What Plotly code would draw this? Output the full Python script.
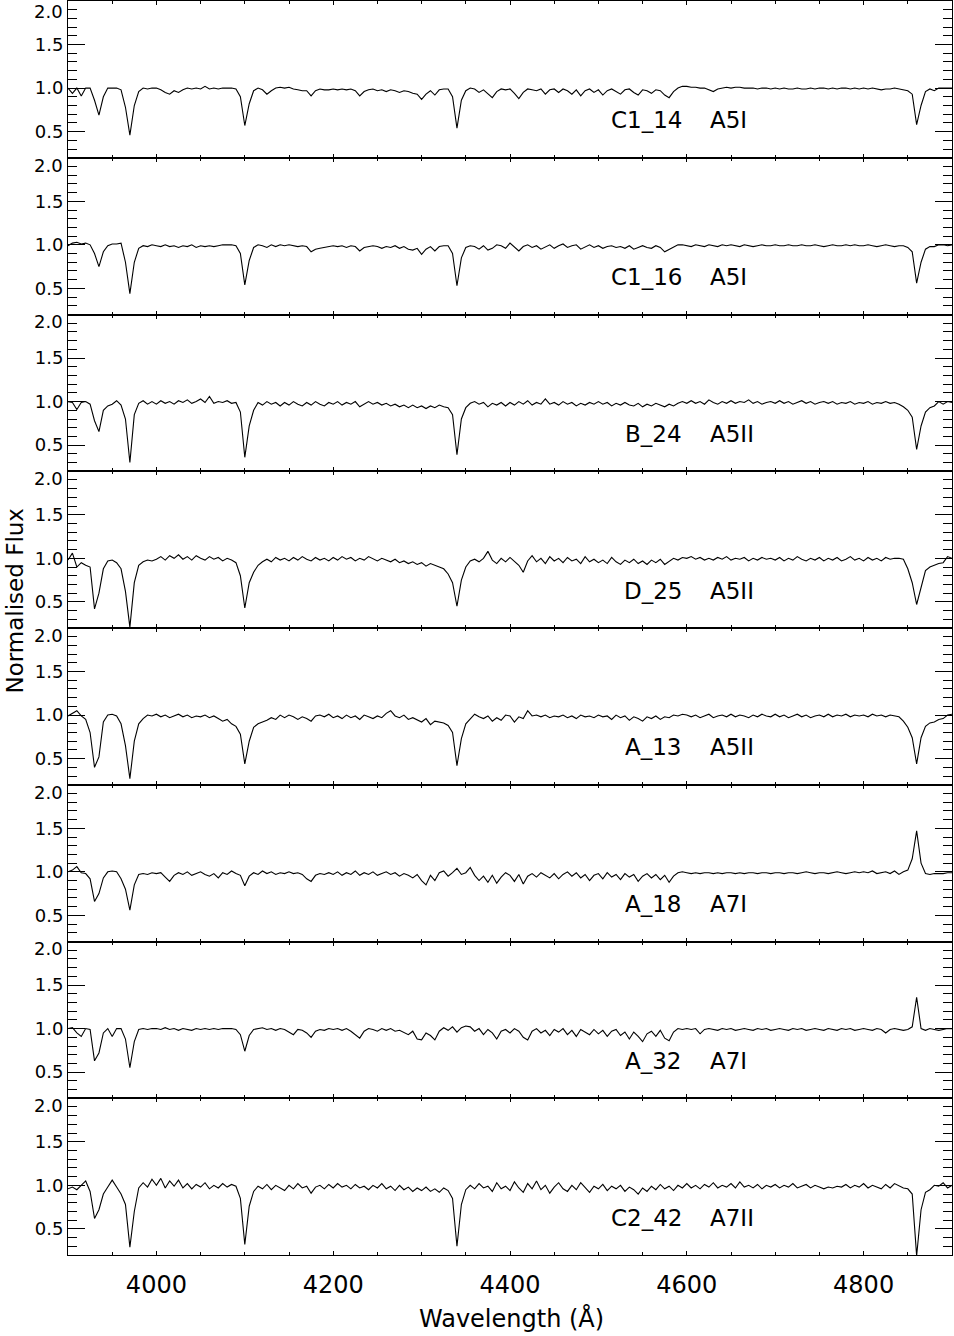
import plotly.graph_objects as go
from plotly.subplots import make_subplots

# ---------------- data ----------------
WAVELENGTH = list(range(3900, 4901, 5))  # sampling grid in Angstrom

STAR_IDS = ["C1_14", "C1_16", "B_24", "D_25", "A_13", "A_18", "A_32", "C2_42"]
SPECTRAL_TYPES = ["A5I", "A5I", "A5II", "A5II", "A5II", "A7I", "A7I", "A7II"]

FLUX_C1_14 = [
    1.00, 0.94, 1.00, 0.91, 1.00, 1.00, 0.86, 0.69, 0.90, 1.00, 1.00, 1.00, 0.98, 0.78, 0.46, 0.80, 0.96, 1.00, 0.99, 1.00,
    1.00, 0.98, 0.95, 0.93, 0.97, 0.95, 0.98, 1.00, 0.99, 1.00, 0.99, 1.02, 0.99, 1.00, 0.99, 1.00, 1.00, 1.00, 0.99, 0.90,
    0.57, 0.82, 0.97, 1.00, 0.98, 0.93, 0.97, 1.00, 1.01, 1.00, 1.01, 0.99, 0.98, 0.97, 0.97, 0.91, 0.97, 0.99, 0.98, 0.98,
    0.99, 0.98, 0.99, 0.98, 0.99, 0.97, 0.91, 0.96, 0.98, 0.99, 0.97, 0.98, 0.96, 0.98, 0.97, 0.95, 0.97, 0.96, 0.94, 0.93,
    0.87, 0.93, 0.97, 0.92, 0.98, 0.99, 0.99, 0.90, 0.54, 0.86, 0.97, 1.00, 0.99, 0.95, 0.98, 0.93, 0.89, 0.96, 0.99, 0.98,
    0.99, 0.94, 0.88, 0.95, 0.99, 0.98, 0.97, 0.99, 0.93, 0.98, 0.99, 0.95, 0.99, 0.97, 0.93, 0.98, 0.91, 0.97, 0.99, 0.95,
    0.98, 0.92, 0.97, 0.99, 0.96, 0.93, 0.98, 0.99, 0.95, 0.92, 0.98, 0.97, 0.94, 0.98, 0.97, 0.92, 0.89, 0.96, 1.00, 1.02,
    1.02, 1.01, 1.01, 1.00, 1.00, 0.98, 0.96, 0.99, 1.00, 1.01, 1.00, 1.01, 1.01, 1.00, 1.00, 1.00, 0.99, 1.00, 1.00, 0.99,
    1.00, 0.99, 1.00, 0.99, 0.99, 1.00, 0.99, 0.99, 1.00, 0.99, 1.00, 1.00, 0.99, 1.00, 0.99, 1.00, 1.00, 0.99, 1.00, 0.99,
    1.00, 0.99, 1.00, 0.99, 0.98, 0.99, 0.99, 1.00, 0.99, 0.98, 0.97, 0.93, 0.58, 0.80, 0.96, 0.99, 0.97, 1.00, 1.00, 1.00,
    1.00,
]

FLUX_C1_16 = [
    0.99, 1.02, 1.03, 1.01, 1.02, 1.00, 0.90, 0.75, 0.92, 0.99, 1.01, 1.01, 1.02, 0.80, 0.44, 0.80, 0.96, 0.99, 0.98, 1.00,
    0.99, 0.98, 1.00, 0.98, 0.99, 0.97, 0.99, 0.98, 1.00, 0.97, 0.99, 0.98, 0.99, 0.98, 0.99, 1.00, 1.00, 1.00, 0.99, 0.90,
    0.54, 0.82, 0.97, 1.00, 0.99, 0.97, 1.00, 0.98, 1.00, 0.99, 1.00, 0.99, 0.98, 0.99, 0.98, 0.92, 0.95, 0.96, 0.97, 0.98,
    0.99, 0.98, 0.99, 0.97, 0.99, 0.98, 0.93, 0.97, 0.98, 0.99, 0.98, 0.96, 0.98, 0.97, 0.99, 0.96, 0.98, 0.95, 0.94, 0.96,
    0.89, 0.95, 0.98, 0.93, 0.98, 0.99, 0.99, 0.90, 0.53, 0.85, 0.97, 0.99, 0.98, 0.95, 0.99, 0.94, 0.96, 1.00, 0.99, 0.96,
    1.02, 0.97, 0.93, 0.98, 1.00, 0.97, 0.99, 0.95, 0.98, 1.00, 0.96, 0.99, 1.01, 0.97, 0.99, 1.00, 0.95, 0.98, 1.00, 0.97,
    0.99, 0.96, 0.98, 0.99, 0.97, 0.98, 0.96, 0.99, 0.95, 0.97, 0.99, 0.97, 0.96, 0.99, 0.97, 0.92, 0.95, 0.98, 1.00, 1.00,
    0.99, 0.98, 1.00, 0.99, 0.98, 1.00, 0.99, 0.98, 1.00, 0.99, 1.00, 0.99, 0.98, 1.00, 0.99, 0.98, 0.99, 1.00, 0.99, 0.99,
    1.00, 0.99, 0.99, 1.00, 0.99, 0.99, 1.00, 0.99, 0.99, 1.00, 0.99, 0.98, 0.99, 1.00, 0.99, 0.99, 1.00, 0.99, 1.00, 0.99,
    0.99, 1.00, 0.99, 0.98, 0.99, 1.00, 0.99, 0.98, 0.99, 0.99, 0.97, 0.92, 0.56, 0.80, 0.95, 0.98, 0.98, 1.00, 1.00, 0.99,
    1.00,
]

FLUX_B_24 = [
    1.00, 0.99, 0.91, 0.99, 1.00, 0.97, 0.78, 0.655, 0.90, 0.95, 0.97, 1.01, 0.96, 0.80, 0.30, 0.85, 0.98, 1.01, 0.97, 1.00,
    0.97, 1.01, 0.98, 1.00, 0.97, 1.01, 0.99, 1.02, 0.98, 1.00, 1.03, 0.99, 1.06, 0.98, 1.00, 0.99, 1.01, 0.98, 0.99, 0.88,
    0.36, 0.72, 0.90, 0.99, 0.96, 1.00, 0.97, 0.99, 0.95, 0.99, 0.96, 1.00, 0.97, 0.95, 0.99, 0.96, 1.00, 0.97, 0.95, 0.99,
    0.97, 1.00, 0.96, 0.99, 0.97, 1.00, 0.94, 0.97, 1.00, 0.97, 0.99, 0.96, 0.98, 0.95, 0.97, 0.94, 0.96, 0.93, 0.96, 0.93,
    0.95, 0.92, 0.95, 0.93, 0.96, 0.94, 0.93, 0.85, 0.39, 0.80, 0.93, 0.98, 1.00, 0.97, 0.99, 0.94, 0.98, 0.96, 0.99, 0.95,
    0.99, 0.96, 1.00, 0.97, 1.01, 0.96, 0.99, 0.97, 1.03, 0.97, 0.99, 0.96, 1.00, 0.97, 0.99, 0.95, 0.98, 0.96, 0.99, 0.97,
    1.00, 0.97, 0.99, 0.95, 0.98, 0.96, 0.99, 0.96, 0.95, 0.98, 0.94, 0.97, 0.95, 0.98, 0.96, 0.94, 0.97, 0.95, 0.98, 1.00,
    0.98, 1.01, 0.98, 1.00, 0.97, 1.02, 0.99, 0.97, 1.00, 0.98, 1.01, 0.98, 1.00, 0.99, 1.02, 0.98, 1.00, 0.97, 0.99, 1.00,
    0.98, 1.01, 0.98, 1.00, 0.97, 0.99, 1.01, 0.98, 1.00, 0.97, 0.99, 1.00, 0.98, 1.00, 0.97, 0.99, 0.98, 1.00, 0.97, 0.99,
    0.98, 1.00, 0.97, 0.99, 0.98, 1.00, 0.98, 0.99, 0.97, 0.94, 0.90, 0.82, 0.45, 0.72, 0.88, 0.93, 0.95, 1.00, 0.97, 1.00,
    0.99,
]

FLUX_D_25 = [
    0.98, 1.06, 0.90, 0.95, 0.92, 0.90, 0.42, 0.60, 0.88, 0.97, 0.98, 0.95, 0.88, 0.62, 0.21, 0.72, 0.92, 0.96, 0.98, 0.97,
    0.99, 1.02, 0.98, 1.03, 1.00, 1.04, 0.99, 1.02, 0.98, 1.03, 1.00, 0.98, 1.02, 0.99, 1.01, 0.97, 1.00, 0.98, 0.95, 0.80,
    0.43, 0.72, 0.84, 0.92, 0.96, 0.99, 0.96, 1.01, 0.98, 1.00, 0.97, 1.01, 0.98, 1.02, 0.99, 0.97, 1.01, 0.98, 1.00, 0.97,
    1.01, 0.98, 1.02, 0.99, 1.01, 0.97, 1.00, 0.98, 1.02, 0.99, 0.97, 1.00, 0.98, 0.96, 0.99, 0.95, 0.97, 0.94, 0.96, 0.93,
    0.95, 0.91, 0.94, 0.92, 0.90, 0.88, 0.82, 0.72, 0.45, 0.75, 0.90, 0.97, 0.99, 0.96, 1.00, 1.08, 0.98, 0.94, 1.00, 0.96,
    1.01, 0.97, 0.92, 0.84, 0.97, 1.03, 0.96, 1.00, 0.94, 1.02, 0.97, 1.00, 0.95, 1.01, 0.97, 0.99, 0.94, 1.02, 0.96, 0.99,
    0.95, 0.98, 0.94, 1.01, 0.96, 0.93, 0.98, 0.95, 0.99, 0.94, 0.97, 0.93, 0.98, 0.95, 0.99, 0.93, 0.97, 1.00, 0.98, 1.01,
    1.00, 1.02, 0.99, 1.01, 0.98, 1.00, 0.98, 1.01, 0.99, 1.02, 0.98, 1.00, 0.99, 1.01, 0.97, 1.00, 0.98, 1.01, 0.99, 1.00,
    0.98, 1.01, 0.97, 1.00, 0.98, 1.02, 0.99, 0.97, 1.00, 0.98, 1.01, 0.97, 1.00, 0.98, 1.01, 0.97, 0.99, 1.02, 0.98, 1.00,
    0.97, 1.01, 0.98, 1.00, 0.97, 1.01, 0.99, 1.00, 1.00, 0.99, 0.88, 0.72, 0.47, 0.66, 0.86, 0.90, 0.92, 0.94, 0.95, 1.02,
    1.00,
]

FLUX_A_13 = [
    0.99, 1.02, 1.05, 0.99, 0.95, 0.80, 0.40, 0.52, 0.92, 1.00, 1.01, 0.99, 0.90, 0.65, 0.27, 0.70, 0.90, 0.96, 1.00, 0.99,
    1.01, 0.98, 1.00, 0.97, 0.99, 1.01, 0.98, 1.00, 0.97, 0.99, 0.98, 1.00, 0.97, 0.99, 0.96, 0.93, 0.95, 0.90, 0.87, 0.78,
    0.44, 0.70, 0.86, 0.90, 0.92, 0.94, 0.97, 0.95, 1.00, 0.97, 1.00, 0.98, 0.95, 0.98, 0.96, 0.93, 0.99, 1.00, 0.98, 1.01,
    0.97, 0.99, 0.96, 1.00, 0.97, 0.99, 0.95, 1.00, 0.98, 0.96, 0.99, 0.97, 1.02, 1.05, 0.99, 0.97, 1.00, 0.95, 0.97, 0.94,
    0.92, 0.96, 0.89, 0.93, 0.92, 0.91, 0.88, 0.80, 0.42, 0.73, 0.90, 0.96, 1.01, 0.98, 0.96, 0.99, 0.93, 0.97, 0.94, 1.00,
    0.99, 0.92, 0.98, 0.96, 1.05, 0.99, 1.00, 0.98, 1.00, 0.97, 0.99, 0.98, 1.00, 0.97, 0.99, 0.96, 1.00, 0.98, 0.99, 0.97,
    1.00, 0.98, 0.99, 0.95, 1.00, 0.97, 0.99, 0.94, 0.98, 0.96, 0.93, 0.98, 0.96, 0.99, 0.95, 0.98, 0.97, 1.00, 0.99, 1.01,
    1.00, 0.98, 1.00, 0.97, 0.99, 1.01, 0.97, 0.99, 1.00, 0.98, 1.01, 0.98, 1.00, 0.99, 0.97, 1.00, 0.98, 1.01, 0.99, 0.98,
    1.01, 0.98, 1.00, 0.97, 0.99, 1.01, 0.98, 1.00, 0.97, 0.99, 1.00, 0.98, 1.01, 0.98, 1.00, 0.99, 1.01, 0.98, 1.00, 0.99,
    1.00, 0.98, 1.01, 0.99, 1.00, 0.98, 1.00, 0.99, 0.98, 0.93, 0.86, 0.74, 0.44, 0.74, 0.87, 0.91, 0.92, 0.95, 0.96, 1.00,
    1.01,
]

FLUX_A_18 = [
    1.00, 1.02, 1.06, 0.99, 0.98, 0.92, 0.66, 0.75, 0.93, 1.00, 1.01, 1.00, 0.92, 0.80, 0.56, 0.85, 0.97, 0.98, 0.97, 0.99,
    0.98, 0.99, 0.94, 0.89, 0.96, 0.99, 0.97, 1.00, 0.96, 0.98, 1.00, 0.97, 0.95, 0.98, 0.93, 0.99, 0.97, 1.01, 0.98, 0.96,
    0.84, 0.95, 0.99, 0.97, 1.01, 0.98, 1.00, 0.97, 0.99, 0.98, 1.00, 0.98, 0.99, 0.97, 0.92, 0.89, 0.96, 0.98, 0.97, 0.99,
    0.97, 1.00, 0.96, 0.99, 0.97, 1.01, 0.96, 0.99, 0.97, 1.00, 0.96, 0.98, 1.00, 0.97, 0.99, 0.95, 0.98, 0.96, 0.93, 0.97,
    0.90, 0.85, 0.96, 0.90, 0.99, 1.01, 0.95, 0.99, 1.04, 0.97, 0.99, 1.05, 0.96, 0.90, 0.95, 0.88, 0.96, 0.87, 0.94, 0.99,
    0.96, 0.89, 0.97, 0.86, 0.95, 0.98, 0.94, 0.99, 0.96, 0.93, 0.98, 0.92, 0.97, 1.00, 0.95, 0.99, 0.93, 0.97, 0.90, 0.96,
    0.98, 0.92, 0.99, 0.94, 0.97, 0.91, 0.98, 0.94, 0.97, 0.89, 0.95, 0.98, 0.93, 0.97, 0.91, 0.96, 0.88, 0.95, 0.99, 1.00,
    0.99, 0.98, 0.99, 0.98, 0.99, 0.99, 0.98, 0.99, 0.98, 0.99, 0.99, 0.98, 0.99, 0.98, 0.99, 0.99, 0.98, 0.99, 0.99, 0.98,
    0.99, 0.99, 0.98, 0.99, 0.99, 0.98, 0.99, 1.00, 0.99, 0.98, 0.99, 0.99, 0.98, 0.99, 1.00, 0.99, 0.98, 0.99, 1.00, 0.99,
    1.00, 0.99, 1.01, 0.98, 0.99, 1.00, 0.98, 1.01, 0.97, 1.00, 1.02, 1.15, 1.47, 1.10, 0.98, 0.97, 0.98, 0.98, 0.98, 0.99,
    0.99,
]

FLUX_A_32 = [
    1.00, 1.01, 0.95, 0.91, 1.00, 0.99, 0.63, 0.72, 0.95, 1.00, 0.91, 1.00, 1.00, 0.88, 0.55, 0.85, 0.99, 1.00, 0.99, 1.00,
    1.00, 0.99, 1.01, 0.99, 1.00, 0.98, 1.00, 0.99, 0.98, 1.00, 0.99, 1.00, 0.99, 1.00, 0.99, 1.00, 1.00, 1.00, 0.99, 0.93,
    0.74, 0.92, 0.99, 1.00, 1.01, 0.99, 1.00, 0.98, 1.00, 0.99, 0.96, 0.93, 0.99, 0.98, 0.95, 0.90, 0.97, 0.99, 0.98, 1.00,
    0.99, 1.00, 0.98, 1.00, 0.97, 0.93, 0.89, 0.97, 1.00, 0.99, 0.97, 1.00, 0.98, 1.00, 0.97, 0.98, 0.95, 0.93, 0.97, 0.88,
    0.87, 0.95, 0.92, 0.87, 0.97, 1.01, 0.98, 1.02, 0.96, 1.01, 1.03, 1.02, 0.97, 1.00, 0.93, 0.99, 0.95, 0.88, 0.97, 0.99,
    0.95, 1.00, 0.97, 0.90, 0.87, 0.97, 1.00, 0.95, 0.98, 0.92, 0.99, 0.96, 1.00, 0.93, 0.98, 0.91, 0.99, 0.96, 0.93, 0.99,
    0.94, 0.98, 0.91, 0.97, 0.99, 0.92, 0.96, 0.88, 0.96, 0.91, 0.85, 0.94, 0.97, 0.91, 0.98, 0.89, 0.86, 0.96, 1.00, 0.99,
    1.00, 0.99, 1.00, 0.94, 0.99, 1.00, 0.99, 0.98, 1.00, 0.99, 1.00, 0.98, 0.99, 1.00, 0.99, 0.98, 1.00, 0.99, 1.00, 0.98,
    0.99, 1.00, 0.99, 0.98, 1.00, 0.99, 1.00, 0.98, 0.99, 1.00, 0.99, 0.98, 1.00, 0.99, 0.98, 1.00, 0.99, 1.00, 0.98, 0.99,
    1.00, 0.99, 0.98, 1.00, 0.99, 0.95, 0.99, 1.00, 0.99, 0.98, 0.99, 1.02, 1.36, 1.00, 0.98, 1.00, 0.99, 0.98, 0.99, 1.00,
    1.00,
]

FLUX_C2_42 = [
    0.96, 0.98, 0.95, 1.00, 1.05, 0.93, 0.62, 0.72, 0.90, 0.98, 1.06, 0.98, 0.90, 0.78, 0.29, 0.70, 0.97, 1.03, 0.98, 1.07,
    1.00, 1.08, 0.97, 1.05, 0.99, 1.06, 0.97, 1.02, 0.96, 1.01, 0.98, 1.03, 0.96, 1.00, 0.97, 1.02, 0.98, 1.01, 0.99, 0.85,
    0.32, 0.76, 0.93, 0.99, 0.96, 1.01, 0.95, 1.00, 0.97, 0.94, 1.00, 0.96, 1.02, 0.97, 0.99, 0.91, 0.98, 1.00, 0.96, 1.01,
    0.97, 1.02, 0.98, 1.00, 0.96, 1.01, 0.97, 0.99, 0.95, 1.00, 0.97, 1.02, 0.96, 0.99, 0.94, 1.00, 0.95, 0.98, 0.93, 0.97,
    0.94, 0.98, 0.93, 0.96, 0.92, 0.97, 0.94, 0.85, 0.30, 0.78, 0.95, 1.00, 0.96, 1.02, 0.97, 0.99, 0.93, 1.03, 0.96, 0.99,
    0.94, 1.04, 0.97, 0.92, 1.02, 0.96, 1.05, 0.95, 1.00, 0.91, 0.98, 1.03, 0.96, 0.93, 1.00, 0.95, 1.03, 0.97, 0.92, 0.99,
    0.96, 1.01, 0.94, 0.99, 0.96, 1.00, 0.93, 0.98, 0.95, 0.90, 0.97, 0.93, 0.99, 0.95, 1.01, 0.96, 0.99, 0.94, 1.00, 0.97,
    1.02, 0.97, 1.00, 0.96, 1.01, 0.98, 1.03, 0.97, 1.00, 0.98, 1.02, 0.97, 1.04, 0.98, 1.00, 0.97, 1.01, 0.96, 1.00, 0.98,
    1.01, 0.97, 1.00, 0.98, 1.02, 0.97, 0.99, 1.01, 0.97, 1.00, 0.98, 0.96, 0.98, 0.97, 0.99, 0.98, 1.01, 0.97, 1.00, 0.98,
    1.02, 0.97, 1.00, 0.98, 0.96, 1.01, 0.97, 1.02, 0.99, 0.97, 0.96, 0.90, 0.19, 0.72, 0.92, 0.95, 1.00, 0.99, 1.03, 0.97,
    1.00,
]

SPECTRA = [FLUX_C1_14, FLUX_C1_16, FLUX_B_24, FLUX_D_25,
           FLUX_A_13, FLUX_A_18, FLUX_A_32, FLUX_C2_42]

X_RANGE = [3900, 4900]
Y_RANGE = [0.2, 2.0]
Y_TICK_VALUES = [0.5, 1.0, 1.5, 2.0]
Y_TICK_LABELS = ["0.5", "1.0", "1.5", ""]
TOP_TICK_LABEL = "2.0"

# ---------------- figure ----------------
FONT = "DejaVu Sans"
N = len(SPECTRA)
W, H = 954, 1336
ML, MR, MT, MB = 68, 2, 1, 81

fig = make_subplots(rows=N, cols=1, shared_xaxes=True, vertical_spacing=0)

for i, flux in enumerate(SPECTRA):
    fig.add_trace(
        go.Scatter(x=WAVELENGTH, y=flux, mode="lines",
                   line=dict(color="black", width=1.1),
                   showlegend=False, hoverinfo="skip"),
        row=i + 1, col=1)

fig.update_xaxes(
    range=X_RANGE, showline=True, linecolor="black", linewidth=1,
    mirror="allticks", ticks="inside", ticklen=4, tickwidth=1, tickcolor="black",
    tickmode="linear", tick0=4000, dtick=200,
    minor=dict(ticks="inside", ticklen=3, tickwidth=1, tickcolor="black",
               tick0=3900, dtick=50, showgrid=False),
    showgrid=False, zeroline=False, showticklabels=False,
)
fig.update_xaxes(showticklabels=True, ticklabelstandoff=8,
                 tickfont=dict(family=FONT, size=24, color="black"),
                 row=N, col=1)

fig.update_yaxes(
    range=Y_RANGE, showline=True, linecolor="black", linewidth=1,
    mirror="allticks", ticks="inside", ticklen=17, tickwidth=1, tickcolor="black",
    tickmode="array", tickvals=Y_TICK_VALUES, ticktext=Y_TICK_LABELS,
    minor=dict(ticks="inside", ticklen=9, tickwidth=1, tickcolor="black",
               tick0=0, dtick=0.1, showgrid=False),
    showgrid=False, zeroline=False,
    tickfont=dict(family=FONT, size=18, color="black"),
)

annotations = []
plot_w = W - ML - MR
plot_h = H - MT - MB
px_per_A = plot_w / (X_RANGE[1] - X_RANGE[0])
panel_h = plot_h / N
px_per_unit = panel_h / (Y_RANGE[1] - Y_RANGE[0])

for i in range(N):
    xref = "x" if i == 0 else f"x{i + 1}"
    yref = "y" if i == 0 else f"y{i + 1}"
    # star id and spectral type
    annotations.append(dict(
        text=STAR_IDS[i], xref=xref, yref=yref,
        x=X_RANGE[0] + (684 - ML) / px_per_A, y=0.63,
        xanchor="right", yanchor="middle", showarrow=False,
        font=dict(family=FONT, size=23, color="black")))
    annotations.append(dict(
        text=SPECTRAL_TYPES[i], xref=xref, yref=yref,
        x=X_RANGE[0] + (707.5 - ML) / px_per_A, y=0.63,
        xanchor="left", yanchor="middle", showarrow=False,
        font=dict(family=FONT, size=23, color="black")))
    # top "2.0" label, drawn slightly below the panel top as in the original
    if i == 0:
        # keep the first one fully inside the page (top edge of the page)
        top_label = dict(yref="paper", y=1 + MT / plot_h, yanchor="top")
    else:
        top_label = dict(yref=yref, y=Y_RANGE[1] - 7.3 / px_per_unit,
                         yanchor="middle")
    annotations.append(dict(
        text=TOP_TICK_LABEL, xref="paper", x=0,
        xanchor="right", xshift=-4, showarrow=False, borderpad=0,
        font=dict(family=FONT, size=18, color="black"), **top_label))

# axis titles
annotations.append(dict(
    text="Wavelength (Å)", xref="paper", yref="paper",
    x=(511.5 - ML) / plot_w, y=-(1318.4 - (H - MB)) / plot_h,
    xanchor="center", yanchor="middle", showarrow=False,
    font=dict(family=FONT, size=24, color="black")))
annotations.append(dict(
    text="Normalised Flux", xref="paper", yref="paper",
    x=(14.5 - ML) / plot_w, y=((H - MB) - 601) / plot_h,
    xanchor="center", yanchor="middle", textangle=-90, showarrow=False,
    font=dict(family=FONT, size=23, color="black")))

fig.update_layout(
    width=W, height=H,
    margin=dict(l=ML, r=MR, t=MT, b=MB, pad=0),
    paper_bgcolor="white", plot_bgcolor="white",
    font=dict(family=FONT, color="black"),
    annotations=annotations,
    showlegend=False,
)

fig.write_html("out.html",
               config={"displayModeBar": False},
               post_script="document.body.style.margin='0';document.body.style.padding='0';")
